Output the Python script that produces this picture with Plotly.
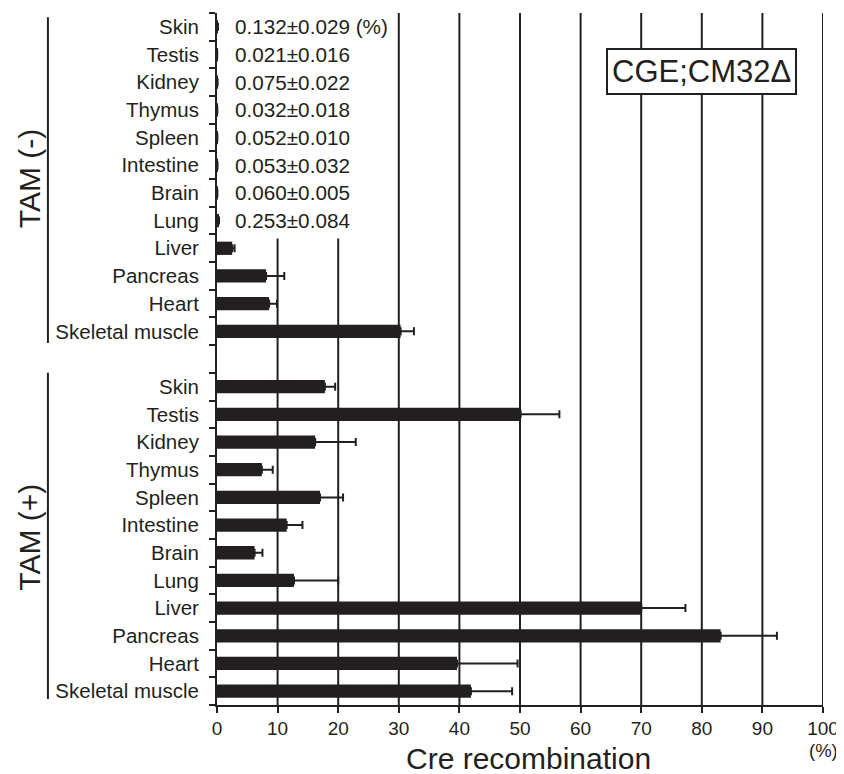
import plotly.graph_objects as go

organs = ["Skin", "Testis", "Kidney", "Thymus", "Spleen", "Intestine", "Brain",
          "Lung", "Liver", "Pancreas", "Heart", "Skeletal muscle"]
tam_minus_mean = [0.132, 0.021, 0.075, 0.032, 0.052, 0.053, 0.060, 0.253, 2.5, 8.1, 8.6, 30.3]
tam_minus_sd = [0.029, 0.016, 0.022, 0.018, 0.010, 0.032, 0.005, 0.084, 0.4, 3.0, 1.3, 2.2]
tam_plus_mean = [17.8, 50.1, 16.2, 7.4, 17.0, 11.5, 6.2, 12.7, 70.0, 83.1, 39.6, 41.9]
tam_plus_sd = [1.7, 6.4, 6.7, 1.8, 3.8, 2.6, 1.3, 7.3, 7.3, 9.3, 10.0, 6.8]
x_ticks = list(range(0, 101, 10))
label_text = "CGE;CM32Δ"
x_title = "Cre recombination"

INK = "#231f20"
FONT = "Liberation Sans, Arial, Helvetica, sans-serif"

n = len(organs)
y_minus = list(range(n))
y_plus = [n + 1 + i for i in range(n)]
n_rows = 2 * n + 1

fig = go.Figure()
for ys, means, sds in [(y_minus, tam_minus_mean, tam_minus_sd),
                       (y_plus, tam_plus_mean, tam_plus_sd)]:
    fig.add_trace(go.Bar(
        x=means, y=ys, orientation="h", width=0.48,
        marker=dict(color=INK, line=dict(width=0)),
        error_x=dict(type="data", symmetric=False, array=sds,
                     arrayminus=[0] * len(sds), color=INK, thickness=2, width=4),
        showlegend=False,
    ))

# small-value annotations for TAM(-)
for i, (m, s) in enumerate(zip(tam_minus_mean, tam_minus_sd)):
    if m < 1:
        txt = f"{m:.3f}±{s:.3f}" + (" (%)" if i == 0 else "")
        fig.add_annotation(x=2.6, y=y_minus[i], text=txt, showarrow=False,
                           xanchor="left", yanchor="middle",
                           font=dict(size=20.7, color=INK, family=FONT))

shapes = []
for v in x_ticks[1:]:
    y0 = 7.65 if v in (10, 20) else -0.5
    shapes.append(dict(type="line", xref="x", yref="y", x0=v, x1=v, y0=y0, y1=n_rows - 0.5,
                       line=dict(color=INK, width=2), layer="below"))
# group brackets
shapes.append(dict(type="line", xref="paper", yref="y", x0=-0.279, x1=-0.279,
                   y0=-0.35, y1=11.42, line=dict(color=INK, width=2)))
shapes.append(dict(type="line", xref="paper", yref="y", x0=-0.279, x1=-0.279,
                   y0=12.5, y1=24.28, line=dict(color=INK, width=2)))

fig.add_annotation(xref="paper", yref="y", x=-0.310, y=5.5, text="TAM (-)", textangle=-90,
                   showarrow=False, xanchor="center", yanchor="middle",
                   font=dict(size=30, color=INK, family=FONT))
fig.add_annotation(xref="paper", yref="y", x=-0.310, y=18.45, text="TAM (+)", textangle=-90,
                   showarrow=False, xanchor="center", yanchor="middle",
                   font=dict(size=30, color=INK, family=FONT))

fig.add_annotation(xref="x", yref="y", x=80.0, y=1.62, text=label_text, showarrow=False,
                   xanchor="center", yanchor="middle",
                   bgcolor="white", bordercolor=INK, borderwidth=2, borderpad=4,
                   font=dict(size=31, color=INK, family=FONT))

fig.add_annotation(xref="paper", yref="paper", x=0.514, y=-0.078, text=x_title,
                   showarrow=False, xanchor="center", yanchor="middle",
                   font=dict(size=30, color=INK, family=FONT))
fig.add_annotation(xref="x", yref="paper", x=100, y=-0.066, text="(%)",
                   showarrow=False, xanchor="center", yanchor="middle",
                   font=dict(size=18.5, color=INK, family=FONT))

# page body adds an 8px offset; sizes below compensate so the plot area lands at 217..825 x 13..705
fig.update_layout(
    width=836, height=766,
    margin=dict(l=209, r=19, t=5, b=69),
    paper_bgcolor="white", plot_bgcolor="white",
    font=dict(family=FONT, color=INK),
    shapes=shapes,
    xaxis=dict(range=[0, 100], tickvals=x_ticks, showgrid=False, zeroline=False,
               showline=True, linecolor=INK, linewidth=2,
               ticks="outside", ticklen=6, tickwidth=2, tickcolor=INK,
               ticklabelstandoff=-1,
               tickfont=dict(size=19, color=INK, family=FONT)),
    yaxis=dict(range=[n_rows - 0.5, -0.5], tickvals=y_minus + y_plus,
               ticktext=organs + organs, showgrid=False, zeroline=False,
               showline=True, linecolor=INK, linewidth=2,
               ticks="", ticklabelstandoff=12,
               tickfont=dict(size=20.5, color=INK, family=FONT),
               minor=dict(tickvals=[i - 0.5 for i in range(n_rows + 1)],
                          ticks="outside", ticklen=6, tickwidth=2, tickcolor=INK,
                          showgrid=False)),
)

fig.write_html("out.html")
